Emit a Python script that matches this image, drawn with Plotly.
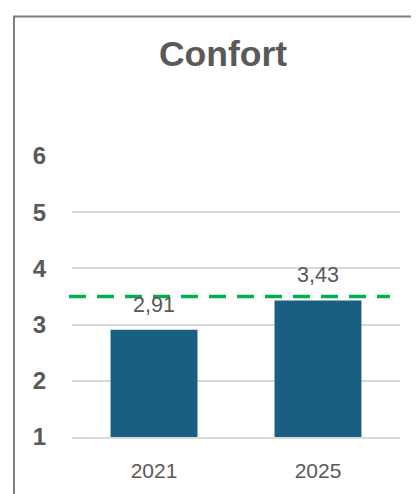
import plotly.graph_objects as go

categories = ["2021", "2025"]
values = [2.91, 3.43]
value_labels = ["2,91", "3,43"]
target = 3.5
y_ticks = [1, 2, 3, 4, 5, 6]
title_text = "Confort"

O = 8  # page body offset
W, H = 419 - O, 494 - O
L, R, T, B = 72 - O, 19, 156 - O, 54 - O
pw, ph = W - L - R, H - T - B

def px_x(p):
    return (p - O - L) / pw

def px_y(p):
    return (H - B - (p - O)) / ph

FONT = "Liberation Sans, Arial"

fig = go.Figure()
fig.add_trace(go.Bar(
    x=categories, y=values,
    marker=dict(color="#185F81", line=dict(width=0)),
    hoverinfo="skip",
))

for i, (v, t) in enumerate(zip(values, value_labels)):
    fig.add_annotation(x=i, y=v, text=t, showarrow=False, yanchor="middle",
                       yshift=25, font=dict(family=FONT, size=21.5, color="#595959"))

# target dashed line
fig.add_shape(type="line", xref="paper", yref="y", x0=px_x(69), x1=px_x(390),
              y0=target, y1=target, layer="above",
              line=dict(color="#00B050", width=3.5, dash="17px,11px"))

# chart border
fig.add_shape(type="rect", xref="paper", yref="paper",
              x0=px_x(14), x1=px_x(440), y0=px_y(520), y1=px_y(11),
              line=dict(color="#7F7F7F", width=2), fillcolor="rgba(0,0,0,0)", layer="below")

fig.update_layout(
    width=W, height=H,
    margin=dict(l=L, r=R, t=T, b=B, pad=0),
    paper_bgcolor="white", plot_bgcolor="white",
    showlegend=False,
    bargap=0.47,
    title=dict(text="<b>" + title_text + "</b>", x=(223 - O) / W, xanchor="center",
               y=1 - (54 - O) / H, yanchor="middle", yref="container",
               font=dict(family=FONT, size=35.5, color="#595959")),
    yaxis=dict(range=[1, 6], tickvals=y_ticks, ticktext=["<b>%d</b>" % t for t in y_ticks],
               showgrid=True, gridcolor="#D9D9D9", gridwidth=1.5, zeroline=False,
               showline=False, ticks="", ticklabelstandoff=25,
               tickfont=dict(family=FONT, size=24, color="#595959")),
    xaxis=dict(type="category", showgrid=False, zeroline=False, showline=True,
               linecolor="#D9D9D9", linewidth=1.5, ticks="", ticklabelstandoff=14,
               tickfont=dict(family=FONT, size=21, color="#595959")),
)

fig.write_html("out.html")
